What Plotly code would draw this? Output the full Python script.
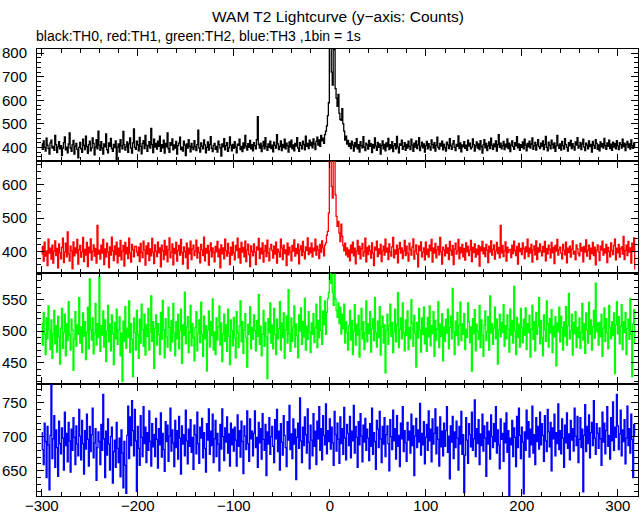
import plotly.graph_objects as go
from plotly.subplots import make_subplots

# ---- data (counts per 1 s bin, bins start at t = -300 s) ----
t_start = -300

th0 = [
    415, 392, 428, 401, 385, 440, 410, 396, 372, 420, 431, 398, 405, 388, 452, 412, 379, 403, 425, 394,
    408, 366, 398, 421, 445, 390, 402, 377, 415, 462, 398, 384, 411, 430, 372, 405, 418, 392, 356, 401,
    422, 395, 380, 436, 409, 391, 448, 404, 375, 412, 427, 386, 399, 441, 418, 369, 402, 433, 395, 470,
    410, 388, 425, 398, 372, 416, 403, 458, 391, 378, 420, 405, 439, 396, 384, 413, 400, 428, 346, 402,
    415, 381, 433, 407, 395, 468, 412, 389, 403, 424, 380, 416, 441, 398, 376, 420, 479, 401, 392, 427,
    411, 386, 443, 405, 373, 418, 429, 396, 452, 410, 384, 407, 425, 398, 481, 412, 379, 436, 402, 418,
    393, 427, 405, 448, 384, 412, 399, 431, 376, 418, 403, 462, 395, 380, 421, 409, 437, 390, 411, 398,
    426, 372, 408, 419, 444, 391, 402, 385, 427, 410, 366, 415, 398, 433, 405, 382, 418, 401, 391, 429,
    404, 387, 412, 474, 398, 381, 420, 406, 395, 432, 411, 378, 401, 424, 389, 413, 446, 397, 383, 409,
    418, 392, 405, 381, 427, 412, 398, 364, 416, 403, 438, 390, 408, 421, 384, 399, 445, 410, 386, 413,
    397, 425, 402, 378, 414, 409, 436, 391, 405, 383, 420, 398, 452, 406, 389, 417, 401, 430, 394, 412,
    386, 421, 408, 395, 433, 531, 412, 398, 419, 383, 407, 426, 395, 442, 404, 388, 415, 401, 427, 396,
    410, 382, 423, 409, 398, 455, 416, 391, 405, 428, 387, 413, 400, 436, 395, 419, 407, 381, 424, 402,
    431, 395, 411, 386, 418, 406, 442, 398, 384, 421, 409, 395, 427, 413, 390, 448, 405, 418, 396, 431,
    408, 422, 399, 437, 415, 391, 426, 444, 410, 432, 405, 451, 428, 440, 418, 455, 470, 492, 535, 590,
    835, 830, 720, 665, 830, 815, 650, 610, 575, 625, 545, 520, 515, 565, 500, 470, 432, 448, 415, 430,
    405, 418, 396, 427, 410, 385, 421, 403, 438, 394, 412, 381, 425, 408, 399, 446, 402, 387, 419, 411,
    393, 430, 405, 417, 379, 412, 398, 441, 406, 388, 422, 401, 415, 372, 409, 428, 395, 413, 386, 420,
    404, 439, 391, 412, 398, 425, 383, 408, 417, 395, 447, 402, 378, 416, 409, 431, 392, 405, 421, 388,
    413, 398, 427, 405, 391, 436, 410, 384, 419, 402, 428, 396, 411, 442, 387, 406, 423, 399, 415, 381,
    408, 426, 394, 417, 403, 389, 432, 412, 398, 421, 385, 409, 444, 401, 393, 418, 406, 427, 390, 414,
    400, 385, 423, 411, 396, 438, 407, 392, 416, 429, 401, 387, 413, 405, 449, 396, 420, 382, 411, 403,
    425, 397, 410, 388, 431, 406, 419, 394, 402, 437, 412, 385, 408, 424, 398, 415, 391, 429, 404, 376,
    411, 433, 399, 418, 387, 407, 424, 396, 440, 409, 392, 416, 403, 428, 385, 413, 455, 401, 419, 394,
    408, 426, 391, 414, 402, 437, 396, 419, 383, 410, 428, 404, 392, 421, 407, 446, 399, 415, 388, 412,
    401, 424, 395, 436, 410, 386, 418, 403, 427, 398, 415, 441, 392, 408, 422, 389, 411, 433, 404, 396,
    419, 405, 428, 391, 412, 447, 401, 386, 423, 409, 395, 431, 414, 398, 420, 384, 406, 452, 410, 397,
    415, 389, 426, 408, 393, 438, 412, 401, 385, 421, 407, 430, 396, 417, 403, 389, 424, 410, 442, 398,
    406, 422, 391, 415, 436, 402, 387, 419, 410, 395, 428, 404, 413, 381, 426, 409, 397, 434, 418, 392,
    411, 386, 424, 403, 417, 398, 439, 408, 392, 420, 405, 431, 396, 414, 388, 423, 402, 418, 395, 429,
    407, 391, 421, 412, 398, 436, 404, 419, 387, 413, 426, 400, 415, 393, 432, 408, 397, 420, 405,
]

th1 = [
    392, 415, 371, 428, 386, 402, 358, 437, 395, 410, 377, 419, 365, 401, 432, 388, 409, 351, 423, 396,
    378, 412, 440, 367, 398, 425, 384, 459, 393, 371, 416, 402, 348, 429, 387, 411, 395, 436, 362, 405,
    418, 383, 399, 442, 370, 406, 389, 427, 355, 413, 396, 438, 374, 401, 420, 386, 409, 365, 478, 392,
    404, 377, 419, 395, 436, 361, 408, 384, 425, 398, 352, 414, 389, 443, 402, 373, 417, 391, 428, 366,
    410, 386, 433, 375, 401, 418, 356, 427, 393, 412, 379, 440, 396, 368, 421, 405, 384, 415, 415, 399,
    388, 413, 370, 424, 397, 382, 431, 404, 359, 417, 392, 426, 373, 408, 387, 439, 398, 364, 420, 401,
    385, 428, 396, 411, 354, 419, 402, 376, 433, 390, 416, 369, 405, 441, 381, 398, 423, 360, 409, 394,
    427, 371, 403, 418, 389, 436, 397, 362, 414, 400, 382, 425, 349, 410, 393, 431, 376, 407, 419, 388,
    401, 434, 380, 412, 397, 366, 421, 405, 388, 443, 372, 409, 395, 418, 359, 402, 426, 384, 411, 397,
    369, 415, 399, 430, 384, 407, 351, 420, 393, 411, 378, 437, 402, 386, 424, 395, 361, 413, 389, 428,
    396, 375, 418, 403, 440, 381, 409, 365, 427, 398, 412, 384, 431, 370, 404, 422, 391, 355, 417, 400,
    387, 423, 398, 361, 414, 405, 439, 379, 410, 393, 426, 368, 401, 418, 385, 434, 396, 372, 409, 421,
    403, 380, 416, 392, 428, 365, 407, 399, 384, 437, 411, 376, 419, 394, 405, 358, 425, 390, 413, 398,
    372, 418, 401, 435, 386, 409, 394, 422, 363, 405, 417, 388, 430, 399, 378, 414, 403, 441, 391, 411,
    396, 425, 384, 410, 402, 437, 389, 416, 405, 379, 421, 398, 432, 411, 387, 419, 426, 448, 460, 515,
    700, 700, 595, 560, 700, 700, 570, 505, 475, 490, 455, 430, 482, 445, 418, 402, 425, 390, 411, 384,
    405, 372, 419, 396, 428, 387, 410, 363, 401, 433, 392, 415, 378, 409, 424, 386, 398, 440, 369, 412,
    391, 417, 402, 380, 426, 395, 358, 413, 404, 431, 385, 408, 393, 421, 370, 402, 416, 389, 437, 398,
    410, 376, 423, 399, 386, 414, 442, 381, 405, 392, 419, 366, 408, 427, 395, 411, 379, 402, 433, 388,
    416, 394, 371, 425, 406, 389, 413, 438, 377, 401, 420, 392, 354, 417, 403, 429, 384, 398, 411, 375,
    428, 391, 407, 383, 419, 402, 436, 368, 410, 395, 424, 381, 405, 415, 390, 442, 399, 362, 413, 404,
    387, 420, 395, 411, 376, 430, 403, 389, 418, 361, 407, 425, 392, 401, 436, 378, 412, 396, 421, 384,
    409, 374, 426, 399, 415, 388, 404, 433, 370, 412, 397, 423, 383, 407, 391, 418, 356, 414, 402, 430,
    393, 411, 385, 421, 404, 367, 416, 398, 432, 389, 406, 420, 377, 401, 427, 394, 412, 381, 478, 396,
    418, 385, 402, 429, 371, 413, 397, 405, 406, 382, 419, 394, 431, 403, 388, 415, 362, 424, 400, 409,
    391, 426, 408, 379, 414, 399, 437, 385, 410, 395, 421, 368, 404, 417, 390, 432, 376, 411, 398, 423,
    402, 387, 415, 398, 430, 372, 409, 393, 419, 406, 381, 427, 396, 412, 364, 418, 401, 436, 389, 405,
    413, 395, 378, 421, 404, 390, 428, 366, 410, 397, 416, 383, 407, 432, 392, 401, 375, 420, 408, 394,
    387, 424, 401, 412, 369, 415, 398, 435, 386, 403, 419, 377, 410, 394, 427, 388, 413, 360, 405, 420,
    399, 373, 416, 404, 431, 389, 408, 395, 421, 367, 412, 400, 384, 426, 403, 391, 418, 437, 375, 410,
    396, 421, 383, 408, 414, 392, 445, 376, 403, 419, 388, 430, 398, 411, 365, 425, 402, 441, 348,
]

th2 = [
    512, 478, 530, 495, 463, 521, 488, 540, 502, 471, 518, 457, 496, 533, 480, 509, 467, 524, 491, 448,
    505, 536, 473, 498, 527, 461, 512, 485, 547, 494, 470, 519, 502, 438, 488, 531, 476, 510, 495, 553,
    481, 507, 466, 529, 492, 515, 455, 498, 538, 472, 583, 503, 486, 521, 464, 497, 544, 478, 512, 490,
    587, 468, 509, 494, 532, 475, 518, 452, 500, 541, 483, 511, 469, 526, 496, 447, 514, 488, 535, 479,
    502, 523, 461, 497, 420, 516, 484, 539, 473, 505, 490, 548, 466, 512, 487, 428, 521, 498, 470, 533,
    494, 457, 519, 481, 543, 503, 476, 527, 462, 510, 492, 536, 470, 499, 556, 484, 515, 441, 505, 526,
    478, 512, 495, 463, 530, 487, 549, 502, 458, 520, 491, 475, 538, 506, 469, 517, 483, 544, 497, 461,
    515, 488, 527, 472, 501, 535, 449, 510, 493, 562, 480, 507, 523, 466, 498, 541, 477, 512, 490, 453,
    506, 531, 469, 497, 518, 482, 546, 495, 460, 524, 488, 509, 437, 502, 532, 475, 515, 493, 551, 470,
    499, 463, 521, 486, 507, 540, 478, 513, 452, 496, 527, 484, 510, 468, 535, 492, 447, 518, 501, 477,
    522, 490, 458, 531, 497, 474, 509, 548, 483, 515, 465, 502, 528, 489, 443, 511, 495, 539, 472, 506,
    487, 526, 501, 469, 517, 492, 558, 479, 508, 461, 495, 533, 476, 514, 491, 425, 520, 498, 545, 481,
    510, 472, 536, 495, 463, 519, 488, 504, 547, 470, 513, 490, 529, 457, 502, 524, 481, 566, 496, 468,
    521, 484, 507, 540, 475, 511, 493, 458, 526, 500, 537, 479, 515, 491, 552, 470, 508, 487, 531, 499,
    466, 513, 495, 528, 482, 506, 543, 474, 517, 490, 555, 501, 479, 532, 510, 548, 495, 530, 552, 561,
    592, 576, 590, 562, 541, 590, 551, 533, 522, 545, 512, 538, 496, 527, 504, 543, 481, 515, 498, 470,
    509, 533, 486, 517, 463, 500, 542, 478, 511, 494, 525, 459, 503, 536, 488, 515, 471, 497, 548, 483,
    512, 496, 531, 467, 504, 520, 485, 553, 498, 475, 516, 490, 539, 462, 507, 524, 481, 510, 434, 501,
    527, 479, 508, 543, 492, 514, 466, 499, 535, 483, 510, 561, 474, 503, 521, 488, 545, 497, 469, 518,
    493, 532, 471, 506, 488, 550, 512, 476, 525, 497, 443, 514, 489, 536, 502, 467, 521, 495, 538, 480,
    505, 468, 522, 491, 540, 477, 509, 496, 531, 460, 517, 486, 503, 547, 474, 511, 492, 528, 453, 507,
    484, 519, 497, 535, 472, 506, 524, 488, 568, 499, 463, 516, 493, 530, 478, 509, 546, 485, 512, 495,
    528, 471, 503, 490, 545, 515, 482, 507, 437, 520, 496, 534, 469, 511, 500, 487, 541, 474, 518, 493,
    460, 510, 532, 485, 499, 523, 470, 556, 497, 512, 479, 505, 538, 488, 519, 448, 502, 527, 491, 514,
    498, 542, 476, 509, 488, 526, 503, 467, 535, 494, 517, 481, 571, 500, 463, 522, 490, 511, 475, 536,
    506, 482, 519, 494, 537, 471, 512, 498, 525, 459, 503, 541, 487, 515, 469, 530, 495, 508, 553, 480,
    517, 490, 461, 526, 502, 484, 548, 511, 475, 520, 497, 534, 466, 508, 491, 523, 445, 513, 499, 538,
    483, 524, 506, 470, 515, 492, 539, 478, 509, 560, 488, 501, 527, 462, 514, 496, 531, 474, 506, 490,
    521, 473, 498, 544, 486, 512, 465, 529, 502, 481, 546, 495, 518, 470, 507, 533, 489, 576, 499, 513,
    478, 514, 491, 527, 460, 505, 537, 484, 520, 498, 472, 541, 506, 488, 515, 493, 529, 433, 510, 547,
    496, 523, 480, 508, 542, 471, 515, 498, 530, 463, 504, 519, 487, 552, 495, 428, 511, 534, 482,
]

th3 = [
    706, 681, 659, 720, 693, 640, 715, 688, 622, 702, 777, 668, 697, 731, 655, 710, 684, 642, 723, 690,
    675, 713, 698, 651, 736, 687, 705, 663, 721, 694, 648, 711, 680, 728, 699, 659, 716, 689, 672, 740,
    701, 666, 724, 690, 645, 709, 682, 733, 696, 657, 715, 678, 703, 742, 669, 691, 712, 636, 684, 707,
    693, 659, 718, 680, 762, 697, 640, 708, 673, 726, 689, 651, 700, 714, 632, 678, 695, 655, 721, 683,
    662, 698, 641, 710, 676, 625, 693, 658, 617, 702, 745, 668, 729, 687, 753, 709, 672, 740, 694, 620,
    715, 683, 658, 731, 699, 671, 744, 690, 714, 662, 706, 680, 738, 693, 657, 719, 685, 703, 671, 727,
    696, 654, 712, 688, 735, 670, 705, 681, 649, 722, 693, 717, 664, 701, 742, 679, 710, 691, 656, 724,
    684, 709, 667, 730, 698, 645, 716, 689, 703, 672, 739, 694, 660, 711, 686, 725, 677, 699, 652, 717,
    703, 675, 736, 690, 661, 714, 698, 727, 669, 706, 683, 648, 719, 695, 741, 674, 708, 687, 733, 662,
    697, 724, 671, 705, 689, 650, 718, 682, 741, 700, 665, 713, 692, 729, 676, 704, 657, 720, 688, 711,
    679, 714, 695, 657, 732, 686, 709, 670, 723, 693, 646, 716, 701, 681, 738, 690, 664, 726, 697, 708,
    672, 705, 738, 684, 699, 655, 721, 691, 712, 667, 734, 696, 680, 718, 643, 707, 689, 728, 674, 700,
    715, 686, 662, 725, 697, 740, 678, 708, 651, 719, 692, 673, 731, 702, 684, 656, 722, 695, 746, 681,
    704, 668, 726, 689, 711, 637, 699, 720, 683, 757, 694, 662, 714, 687, 729, 703, 676, 741, 692, 653,
    717, 695, 672, 734, 686, 708, 659, 723, 697, 744, 680, 712, 666, 731, 702, 688, 748, 675, 709, 693,
    726, 682, 714, 691, 658, 737, 703, 679, 720, 696, 661, 729, 690, 712, 674, 743, 698, 666, 718, 705,
    687, 730, 669, 708, 694, 746, 676, 715, 699, 655, 722, 688, 734, 701, 663, 717, 692, 727, 680, 711,
    698, 665, 719, 686, 742, 674, 706, 693, 652, 724, 711, 684, 737, 697, 662, 715, 689, 728, 671, 703,
    716, 690, 650, 725, 700, 681, 739, 694, 712, 667, 731, 686, 702, 656, 720, 697, 744, 678, 709, 691,
    664, 721, 695, 708, 676, 733, 687, 716, 643, 701, 727, 684, 710, 692, 749, 673, 705, 688, 722, 660,
    699, 718, 680, 738, 694, 711, 663, 726, 689, 705, 741, 675, 714, 696, 657, 729, 685, 708, 672, 720,
    686, 709, 744, 677, 701, 638, 716, 692, 730, 668, 707, 684, 723, 698, 651, 715, 689, 737, 674, 703,
    618, 673, 728, 695, 661, 719, 703, 685, 736, 680, 697, 754, 671, 712, 690, 725, 659, 704, 687, 733,
    679, 716, 698, 642, 721, 689, 708, 667, 732, 700, 684, 719, 693, 744, 676, 710, 688, 653, 726, 696,
    705, 664, 720, 691, 735, 677, 709, 614, 698, 688, 724, 671, 713, 699, 656, 730, 684, 742, 702, 668,
    714, 692, 616, 707, 680, 739, 697, 722, 670, 711, 688, 745, 676, 703, 659, 728, 693, 715, 682, 736,
    688, 719, 702, 664, 731, 694, 678, 740, 707, 685, 721, 650, 713, 697, 733, 672, 706, 690, 748, 681,
    709, 675, 726, 698, 655, 717, 691, 735, 683, 704, 666, 724, 695, 712, 679, 742, 701, 687, 730, 662,
    696, 728, 684, 711, 619, 702, 747, 678, 715, 690, 732, 669, 706, 721, 687, 753, 698, 674, 719, 705,
    683, 713, 697, 658, 736, 692, 720, 675, 709, 744, 686, 702, 667, 728, 694, 751, 680, 714, 699, 762,
    716, 681, 704, 739, 672, 710, 693, 725, 660, 698, 745, 687, 712, 676, 733, 696, 640, 718, 702,
]

series = [th0, th1, th2, th3]
colors = ["#000000", "#ff0000", "#00ff00", "#0000ff"]
names = ["TH0", "TH1", "TH2", "TH3"]

y_ranges = [[344, 818], [337, 672], [416, 593], [613, 777]]
y_tickvals = [[400, 500, 600, 700, 800], [400, 500, 600], [450, 500, 550], [650, 700, 750]]
y_minor = [20, 20, 10, 10]

x_tickvals = [-300, -200, -100, 0, 100, 200, 300]
x_ticktext = ["\u2212300", "\u2212200", "\u2212100", "0", "100", "200", "300"]

title_text = "WAM T2 Lightcurve (y\u2212axis: Counts)"
subtitle_text = "black:TH0, red:TH1, green:TH2, blue:TH3 ,1bin = 1s"

FONT = "Liberation Sans, Arial, Helvetica, sans-serif"

fig = make_subplots(rows=4, cols=1, shared_xaxes=True, vertical_spacing=0)

for i, (vals, col, nm) in enumerate(zip(series, colors, names)):
    x = list(range(t_start, t_start + len(vals)))
    fig.add_trace(
        go.Scatter(x=x, y=vals, mode="lines", line=dict(color=col, width=1.3, shape="hvh"),
                   name=nm, showlegend=False, hoverinfo="skip"),
        row=i + 1, col=1,
    )
    fig.update_yaxes(
        range=y_ranges[i], tickvals=y_tickvals[i], ticks="inside", ticklen=7, tickwidth=1,
        tickcolor="black", mirror="allticks", showline=True, linecolor="black", linewidth=1,
        showgrid=False, zeroline=False, tickfont=dict(family=FONT, size=15, color="black"),
        minor=dict(dtick=y_minor[i], ticks="inside", ticklen=4, tickcolor="black", showgrid=False),
        ticklabelstandoff=6, automargin=False,
        row=i + 1, col=1,
    )
    fig.update_xaxes(
        range=[-305, 321], tickvals=x_tickvals, ticktext=x_ticktext, ticks="inside", ticklen=7,
        tickwidth=1, tickcolor="black", mirror="allticks", showline=True, linecolor="black",
        linewidth=1, showgrid=False, zeroline=False,
        tickfont=dict(family=FONT, size=15, color="black"),
        minor=dict(dtick=20, ticks="inside", ticklen=4, tickcolor="black", showgrid=False),
        ticklabelstandoff=-4, automargin=False,
        row=i + 1, col=1,
    )

fig.add_annotation(text=title_text, xref="paper", yref="paper", x=0.5, y=1,
                   yshift=22, xanchor="center", yanchor="bottom", showarrow=False,
                   font=dict(family=FONT, size=15.5, color="black"))
fig.add_annotation(text=subtitle_text, xref="paper", yref="paper", x=0, y=1,
                   yshift=3, xanchor="left", yanchor="bottom", showarrow=False,
                   xshift=-3, font=dict(family=FONT, size=14, color="black"))

fig.update_layout(
    width=643, height=515,
    margin=dict(l=37, r=5, t=49, b=19, autoexpand=False),
    paper_bgcolor="white", plot_bgcolor="white",
    font=dict(family=FONT, size=14, color="black"),
)

fig.write_html("out.html", config={"displayModeBar": False},
               post_script="document.body.style.margin='0';document.body.style.overflow='hidden';")
